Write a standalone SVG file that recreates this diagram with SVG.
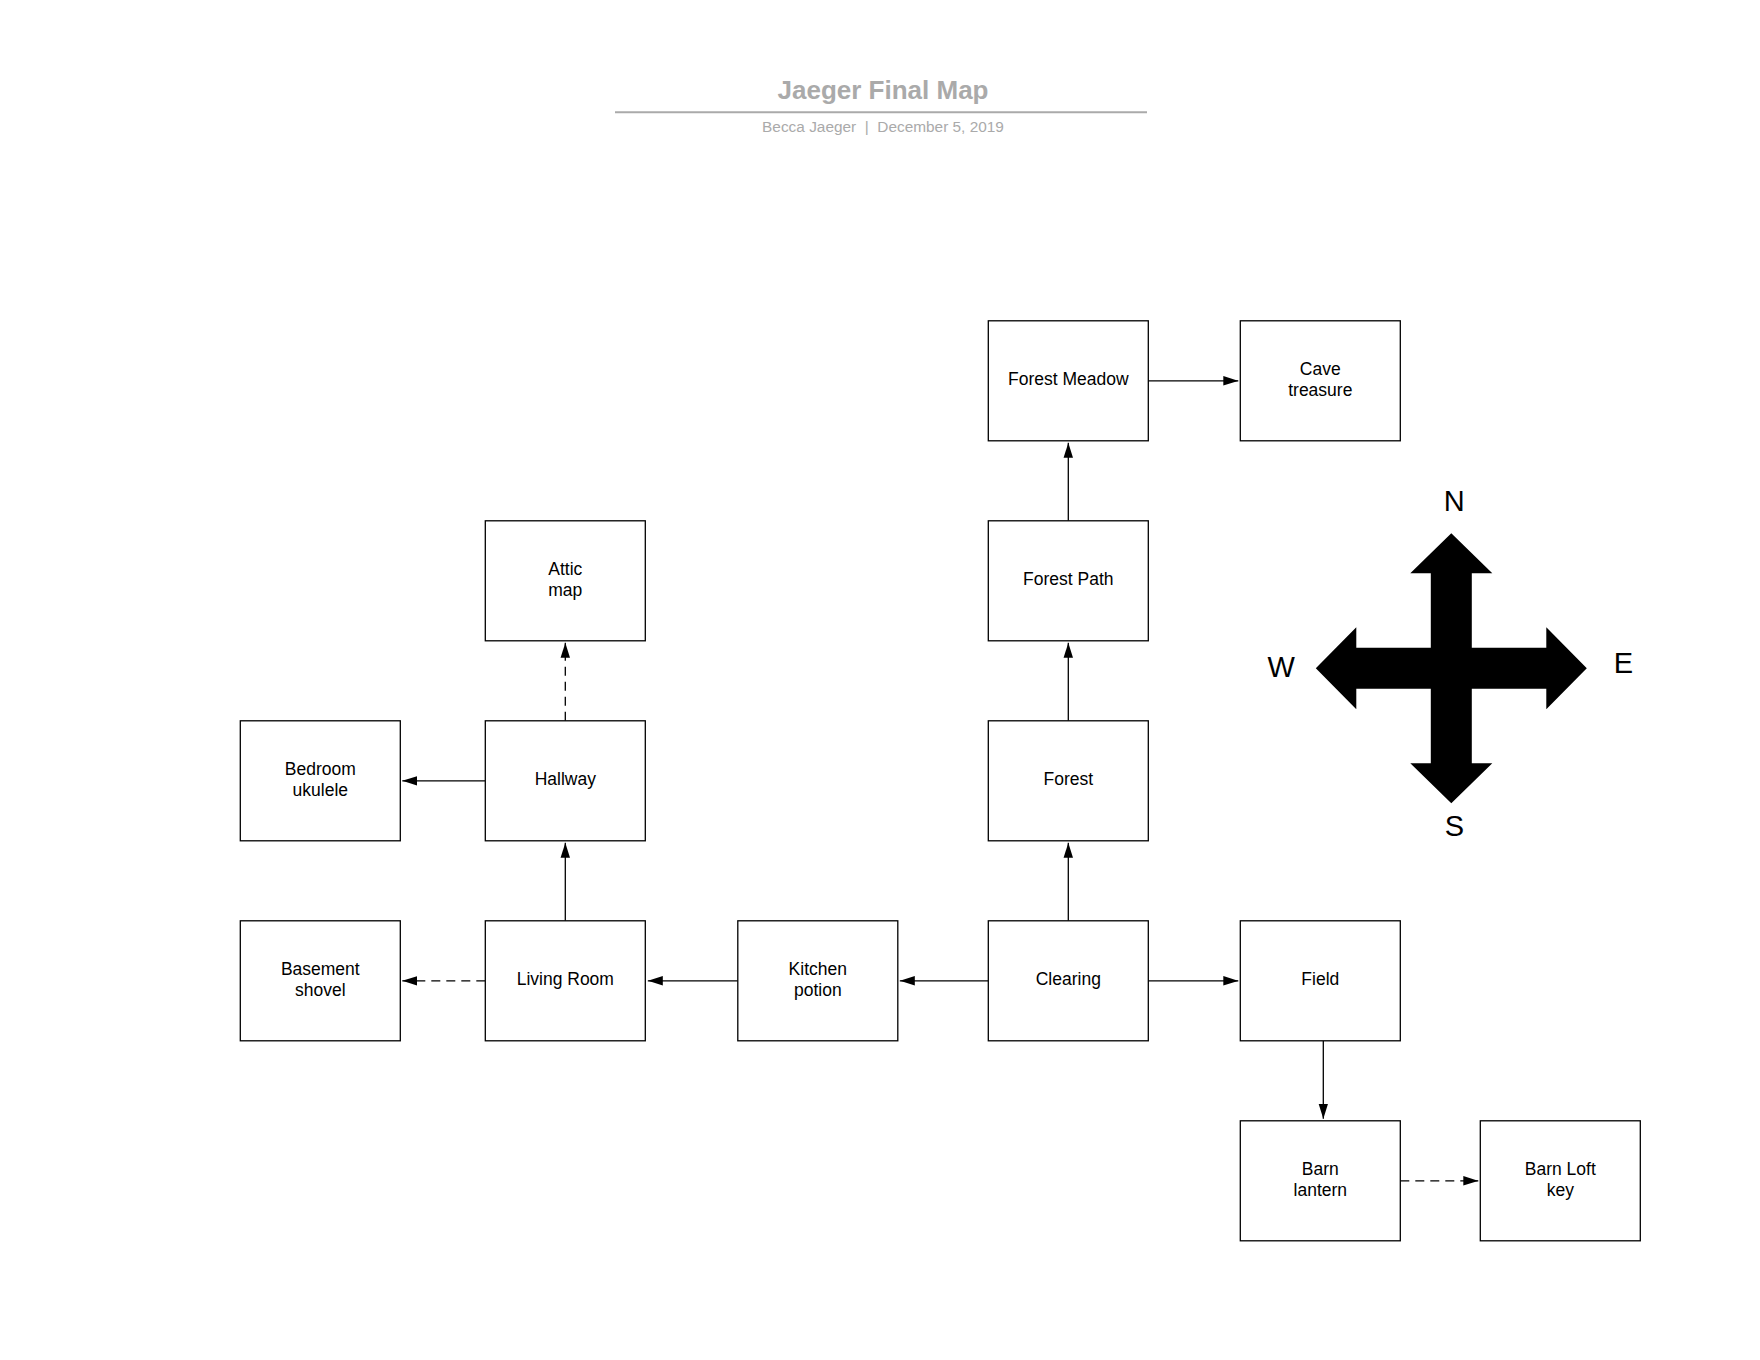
<svg xmlns="http://www.w3.org/2000/svg" width="1760" height="1360" viewBox="0 0 1760 1360">
<style>
.node rect{fill:#fff;stroke:#000;stroke-width:1.3}
.node text{font-family:"Liberation Sans",Arial,sans-serif;font-size:17.5px;fill:#000;text-anchor:middle}
.conn path{fill:none;stroke:#000;stroke-width:1.3;marker-end:url(#ah)}
.conn path.dash{stroke-dasharray:9 6}
.title{font-family:"Liberation Sans",Arial,sans-serif;font-size:26px;font-weight:bold;fill:#aaaaaa;text-anchor:middle}
.sub{font-family:"Liberation Sans",Arial,sans-serif;font-size:15.4px;fill:#aaaaaa;text-anchor:middle}
.cmp{font-family:"Liberation Sans",Arial,sans-serif;font-size:29px;fill:#000;text-anchor:middle}
</style>
<defs>
<marker id="ah" viewBox="0 0 15 10" markerWidth="15" markerHeight="10" refX="15" refY="5" orient="auto" markerUnits="userSpaceOnUse">
<path d="M0,0.3 L15,5 L0,9.7 z" fill="#000" stroke="none"/>
</marker>
</defs>
<rect width="1760" height="1360" fill="#fff"/>
<g id="title">
<text class="title" x="883" y="98.5">Jaeger Final Map</text>
<line x1="615" y1="112.2" x2="1147" y2="112.2" stroke="#aaaaaa" stroke-width="2"/>
<text class="sub" x="883" y="131.5" xml:space="preserve">Becca Jaeger  |  December 5, 2019</text>
</g>
<g transform="translate(0.3,0.8)">
<g class="conn" id="connectors">
<path d="M1148,380 H1238"/>
<path d="M1068,520 V442"/>
<path d="M1068,720 V642"/>
<path d="M1068,920 V842"/>
<path d="M1148,980 H1238"/>
<path d="M988,980 H899.5"/>
<path d="M737.5,980 H647.5"/>
<path class="dash" d="M485,980 H402"/>
<path d="M565,920 V842"/>
<path d="M485,780 H402"/>
<path class="dash" d="M565,720 V642"/>
<path d="M1323,1040 V1118"/>
<path class="dash" d="M1400,1180 H1478"/>
</g>
<g class="node" id="forest-meadow"><rect x="988" y="320" width="160" height="120"/><text x="1068" y="384.3">Forest Meadow</text></g>
<g class="node" id="cave"><rect x="1240" y="320" width="160" height="120"/><text x="1320" y="374">Cave</text><text x="1320" y="395.7">treasure</text></g>
<g class="node" id="forest-path"><rect x="988" y="520" width="160" height="120"/><text x="1068" y="584.3">Forest Path</text></g>
<g class="node" id="attic"><rect x="485" y="520" width="160" height="120"/><text x="565" y="574">Attic</text><text x="565" y="595.7">map</text></g>
<g class="node" id="bedroom"><rect x="240" y="720" width="160" height="120"/><text x="320" y="774">Bedroom</text><text x="320" y="795.7">ukulele</text></g>
<g class="node" id="hallway"><rect x="485" y="720" width="160" height="120"/><text x="565" y="784.3">Hallway</text></g>
<g class="node" id="forest"><rect x="988" y="720" width="160" height="120"/><text x="1068" y="784.3">Forest</text></g>
<g class="node" id="basement"><rect x="240" y="920" width="160" height="120"/><text x="320" y="974">Basement</text><text x="320" y="995.7">shovel</text></g>
<g class="node" id="living-room"><rect x="485" y="920" width="160" height="120"/><text x="565" y="984.3">Living Room</text></g>
<g class="node" id="kitchen"><rect x="737.5" y="920" width="160" height="120"/><text x="817.5" y="974">Kitchen</text><text x="817.5" y="995.7">potion</text></g>
<g class="node" id="clearing"><rect x="988" y="920" width="160" height="120"/><text x="1068" y="984.3">Clearing</text></g>
<g class="node" id="field"><rect x="1240" y="920" width="160" height="120"/><text x="1320" y="984.3">Field</text></g>
<g class="node" id="barn"><rect x="1240" y="1120" width="160" height="120"/><text x="1320" y="1174">Barn</text><text x="1320" y="1195.7">lantern</text></g>
<g class="node" id="barn-loft"><rect x="1480" y="1120" width="160" height="120"/><text x="1560" y="1174">Barn Loft</text><text x="1560" y="1195.7">key</text></g>
<g id="compass">
<polygon fill="#000" points="1451,532.5 1492,572.5 1471.5,572.5 1471.5,647 1546,647 1546,626.5 1586.5,667.5 1546,708.5 1546,688 1471.5,688 1471.5,762.5 1492,762.5 1451,802.5 1410,762.5 1430.5,762.5 1430.5,688 1356,688 1356,708.5 1315.5,667.5 1356,626.5 1356,647 1430.5,647 1430.5,572.5 1410,572.5"/>
<text class="cmp" x="1454" y="510.7">N</text>
<text class="cmp" x="1281" y="676">W</text>
<text class="cmp" x="1623" y="672.7">E</text>
<text class="cmp" x="1454" y="835.3">S</text>
</g>
</g>
</svg>
